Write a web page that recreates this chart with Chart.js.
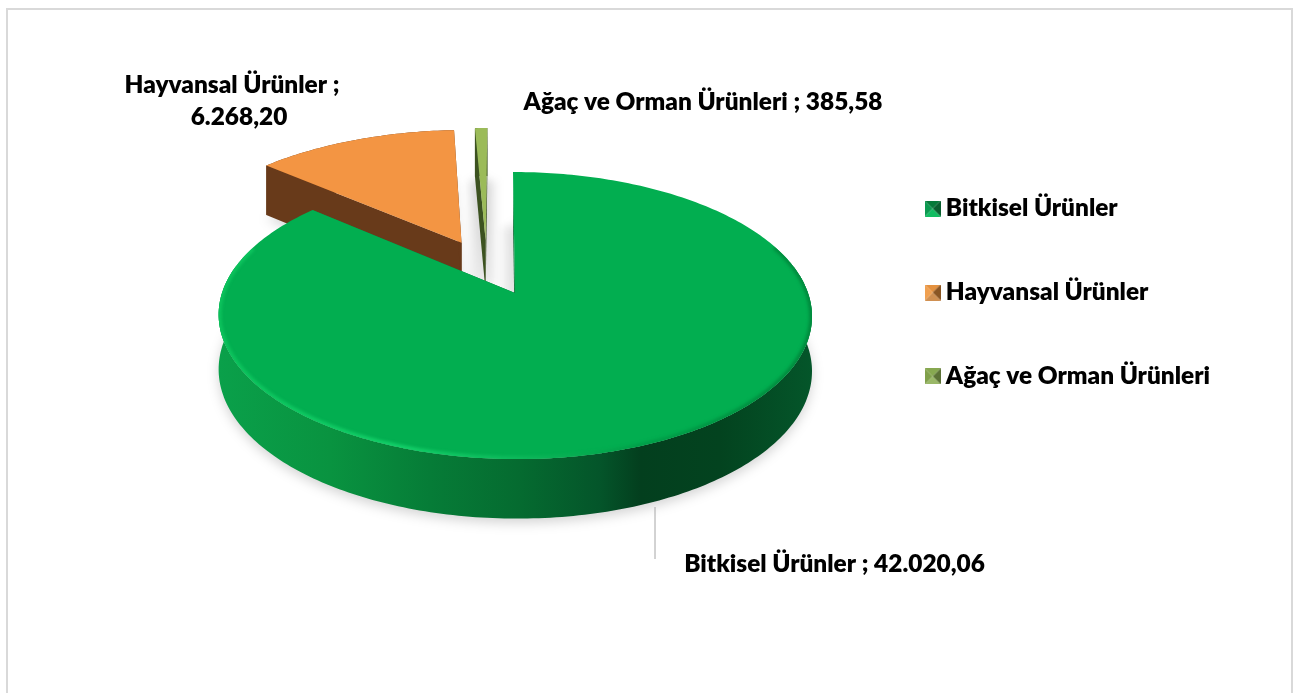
<!DOCTYPE html>
<html><head><meta charset="utf-8">
<style>html,body{margin:0;padding:0;background:#fff}canvas{display:block}</style>
<script src="https://cdn.jsdelivr.net/npm/chart.js@4"></script>
</head><body><canvas id="c" width="1300" height="693"></canvas>
<script>
const categories = ["Bitkisel Ürünler", "Hayvansal Ürünler", "Ağaç ve Orman Ürünleri"];
const values = [42020.06, 6268.20, 385.58];
const valueLabels = ["42.020,06", "6.268,20", "385,58"];
const topColors = ["#02ae50", "#f39543", "#9bbb59"];

const FONT = '800 24.4px Lato';
const cam = {cx:515, cy:293, a:293, b:140, p:0.157, shear:2, h:54, k:0.57, explode:0.21, farScale:1.045, farShift:-0.011};

function project(u, v){
  const w = 1 + cam.p*v;
  return {x: cam.cx + cam.a*u/w - cam.shear*v, y: cam.cy - cam.b*v/w, w};
}
function down(pt, dy){ return {x:pt.x, y:pt.y + (dy===undefined?cam.h:dy)*Math.pow(pt.w,-cam.k)}; }

function sliceGeom(el, ref){
  const s = el.startAngle + Math.PI/2, e = el.endAngle + Math.PI/2;
  const mid = (s+e)/2, rmid = (ref.startAngle + ref.endAngle)/2 + Math.PI/2;
  const far = el !== ref;
  const ou = cam.explode*(Math.sin(mid)-Math.sin(rmid)) + (far?cam.farShift:0);
  const ov = cam.explode*(Math.cos(mid)-Math.cos(rmid));
  const r = far?cam.farScale:1;
  const n = Math.max(4, Math.ceil((e-s)*60));
  const rim = [], plane = [];
  for(let i=0;i<=n;i++){
    const t = s + (e-s)*i/n;
    rim.push(project(ou+r*Math.sin(t), ov+r*Math.cos(t))); plane.push(Math.cos(t));
  }
  return {apex:project(ou,ov), rim, plane};
}
function poly(ctx, pts){ ctx.beginPath(); pts.forEach((p,i)=> i?ctx.lineTo(p.x,p.y):ctx.moveTo(p.x,p.y)); ctx.closePath(); }
function xGrad(ctx, stops){
  const g = ctx.createLinearGradient(219,0,813,0);
  stops.forEach(([x,c])=>g.addColorStop((x-219)/594,c));
  return g;
}

const pie3d = {
  id:'pie3d',
  beforeDraw(chart){
    const ctx = chart.ctx;
    ctx.save(); ctx.strokeStyle='#d9d9d9'; ctx.lineWidth=2;
    ctx.beginPath(); ctx.moveTo(7,700); ctx.lineTo(7,9); ctx.lineTo(1292,9); ctx.lineTo(1292,700); ctx.stroke();
    ctx.restore();
  },
  beforeDatasetDraw(chart){
    const ctx = chart.ctx, arcs = chart.getDatasetMeta(0).data, ref = arcs[0];
    const geoms = arcs.map(el=>sliceGeom(el,ref));
    const wallFill = [
      xGrad(ctx,[[219,'#0aa04a'],[330,'#099340'],[430,'#067c37'],[520,'#056b30'],[600,'#04552a'],[640,'#033f1e'],[720,'#03431f'],[813,'#04562a']]),
      '#683a1a','#3c5220'];
    ctx.save();
    // soft ground shadow
    ctx.filter='blur(6px)'; ctx.fillStyle='rgba(0,0,0,0.17)';
    geoms.forEach(g=>{ poly(ctx,[g.apex,...g.rim].map(p=>down(p,cam.h+4))); ctx.fill(); });
    ctx.filter='blur(4px)'; ctx.fillStyle='rgba(0,0,0,0.07)';
    ctx.fillRect(468,180,28,105); ctx.fillRect(502,226,12,70);
    ctx.filter='none';
    // walls then tops, far slices first
    [1,2,0].forEach(i=>{
      const g = geoms[i], col = wallFill[i];
      ctx.fillStyle = col;
      const wallRim = i===0 ? g.rim.filter((p,k)=>g.plane[k]<0.2) : g.rim;
      poly(ctx,[...wallRim, ...wallRim.slice().reverse().map(p=>down(p))]); ctx.fill();
      const a=g.rim[0], b=g.rim[g.rim.length-1];
      [a,b].forEach(r=>{ poly(ctx,[g.apex,r,down(r),down(g.apex)]); ctx.fill(); });
      ctx.fillStyle = arcs[i].options.backgroundColor;
      poly(ctx,[g.apex,...g.rim]); ctx.fill();
      if(i===0){
        ctx.save();
        poly(ctx,[g.apex,...g.rim]); ctx.clip();
        ctx.filter='blur(1.6px)'; ctx.lineWidth=6; ctx.lineCap='butt';
        ctx.strokeStyle = xGrad(ctx,[[219,'#0cc25c'],[400,'#12cf68'],[520,'#0db85a'],[640,'#009f48'],[813,'#008a3d']]);
        const front = g.rim.filter((p,k)=>g.plane[k]<0.35);
        ctx.beginPath(); front.forEach((p,k)=>k?ctx.lineTo(p.x,p.y):ctx.moveTo(p.x,p.y)); ctx.stroke();
        ctx.restore();
      }
    });
    ctx.restore();
    return false;
  },
  afterDatasetsDraw(chart){
    const ctx = chart.ctx;
    ctx.save();
    ctx.strokeStyle='#a6a6a6'; ctx.lineWidth=1;
    ctx.beginPath(); ctx.moveTo(655,507); ctx.lineTo(655,559); ctx.stroke();
    ctx.fillStyle='#000'; ctx.font=FONT; ctx.textBaseline='middle'; ctx.textAlign='center';
    const lines = [
      [categories[1]+' ;',232,85],[valueLabels[1],239,117],
      [categories[2]+' ; '+valueLabels[2],703,102],
      [categories[0]+' ; '+valueLabels[0],834.5,564]
    ];
    lines.forEach(([t,x,y])=>ctx.fillText(t,x,y));
    ctx.restore();
  }
};

function swatch(cols){
  const c=document.createElement('canvas'); c.width=16; c.height=16;
  const x=c.getContext('2d');
  const tri=(pts,col)=>{x.fillStyle=col;x.beginPath();pts.forEach((p,i)=>i?x.lineTo(p[0],p[1]):x.moveTo(p[0],p[1]));x.closePath();x.fill();};
  tri([[0,0],[16,0],[8,8]],cols[0]);
  tri([[16,0],[16,16],[8,8]],cols[1]);
  tri([[0,16],[16,16],[8,8]],cols[2]);
  tri([[0,0],[0,16],[8,8]],cols[3]);
  return c;
}
const swatches=[
  swatch(['#067a3a','#0a5f30','#12bd62','#0c9a50']),
  swatch(['#e4913f','#8a5624','#d09052','#f0a050']),
  swatch(['#87a850','#5c7236','#9ab868','#80a04a'])
];

new Chart(document.getElementById('c'),{
  type:'pie',
  data:{labels:categories,datasets:[{data:values,backgroundColor:topColors,borderWidth:0}]},
  options:{
    responsive:false,animation:false,
    layout:{padding:{right:80,bottom:108,top:0,left:0}},
    plugins:{
      tooltip:{enabled:false},
      legend:{position:'right',align:'center',
        labels:{usePointStyle:true,boxWidth:2,boxHeight:16,padding:59.5,color:'#000',font:{family:'Lato',size:24.4,weight:'800'},
          generateLabels:(ch)=>categories.map((t,i)=>({text:t,pointStyle:swatches[i],fillStyle:topColors[i],lineWidth:0,hidden:false,index:i,fontColor:'#000'}))}
      }
    }
  },
  plugins:[pie3d]
});
</script></body></html>
